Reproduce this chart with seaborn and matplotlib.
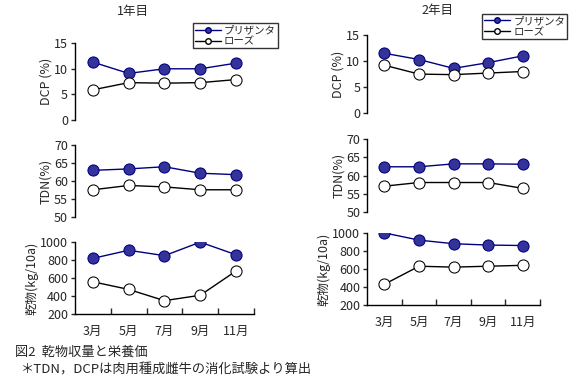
import matplotlib
matplotlib.use('Agg')
import matplotlib.pyplot as plt
import pandas as pd
import seaborn as sns
from matplotlib.lines import Line2D

sns.set_style('white')
plt.rcParams['font.family'] = ['Noto Sans CJK JP', 'DejaVu Sans']

months = ['3月', '5月', '7月', '9月', '11月']
varieties = ['プリザンタ', 'ローズ']

# 1年目
dcp1_p = [11.3, 9.1, 10.0, 10.0, 11.1]
dcp1_r = [5.9, 7.3, 7.2, 7.3, 7.9]
tdn1_p = [63.0, 63.4, 64.0, 62.2, 61.8]
tdn1_r = [57.6, 58.8, 58.4, 57.6, 57.6]
dm1_p = [820, 910, 850, 1000, 860]
dm1_r = [560, 475, 350, 410, 680]

# 2年目
dcp2_p = [11.5, 10.3, 8.6, 9.7, 11.0]
dcp2_r = [9.2, 7.5, 7.4, 7.7, 8.0]
tdn2_p = [62.4, 62.4, 63.2, 63.2, 63.1]
tdn2_r = [57.1, 58.1, 58.1, 58.1, 56.5]
dm2_p = [1000, 920, 880, 865, 860]
dm2_r = [430, 630, 620, 630, 640]

navy = '#000080'
fill = '#333399'


def make_df(p, r):
    return pd.DataFrame({
        'month': months * 2,
        'value': p + r,
        'variety': [varieties[0]] * 5 + [varieties[1]] * 5,
    })


fig = plt.figure(figsize=(5.72, 3.85), dpi=100)

cols = [
    (0.131, 0.313, [(dcp1_p, dcp1_r), (tdn1_p, tdn1_r), (dm1_p, dm1_r)],
     [(0.688, 0.200), (0.436, 0.187), (0.184, 0.187)]),
    (0.642, 0.302, [(dcp2_p, dcp2_r), (tdn2_p, tdn2_r), (dm2_p, dm2_r)],
     [(0.706, 0.203), (0.449, 0.190), (0.208, 0.187)]),
]
ylims = [(0, 15), (50, 70), (200, 1000)]
yticks = [[0, 5, 10, 15], [50, 55, 60, 65, 70], [200, 400, 600, 800, 1000]]
ylabels = ['DCP (%)', 'TDN(%)', '乾物(kg/10a)']
titles = ['1年目', '2年目']
title_pos = [(0.233, 0.969), (0.764, 0.974)]
legend_pos = [(0.337, 0.940), (0.843, 0.964)]

for ci, (x0, w, data, rows) in enumerate(cols):
    for ri, ((p, r), (b, h)) in enumerate(zip(data, rows)):
        ax = fig.add_axes([x0, b, w, h])
        df = make_df(p, r)
        sns.lineplot(data=df, x='month', y='value', hue='variety',
                     palette={varieties[0]: navy, varieties[1]: 'black'},
                     ax=ax, legend=False, lw=1, sort=False)
        ax.lines[0].set(marker='o', markersize=8, markerfacecolor=fill,
                        markeredgecolor=navy)
        ax.lines[1].set(marker='o', markersize=8, markerfacecolor='white',
                        markeredgecolor='black')
        ax.set_xlim(-0.5, 4.5)
        ax.set_ylim(*ylims[ri])
        ax.set_yticks(yticks[ri])
        ax.set_ylabel(ylabels[ri], fontsize=9, labelpad=1)
        ax.set_xlabel('')
        for s in ['top', 'right']:
            ax.spines[s].set_visible(False)
        ax.spines['left'].set_color('black')
        ax.spines['left'].set_linewidth(1)
        ax.tick_params(axis='y', left=True, length=3, width=1,
                       labelsize=9, pad=2, direction='out')
        if ri < 2:
            ax.spines['bottom'].set_visible(False)
            ax.set_xticks([])
        else:
            ax.spines['bottom'].set_color('black')
            ax.spines['bottom'].set_linewidth(1)
            ax.set_xticks([0, 1, 2, 3, 4])
            ax.set_xticklabels(months, fontsize=9)
            ax.set_xticks([0.5, 1.5, 2.5, 3.5, 4.5], minor=True)
            ax.tick_params(axis='x', which='major', length=0, pad=8)
            ax.tick_params(axis='x', which='minor', bottom=True, length=4,
                           width=1, direction='in')
        if ri == 0:
            handles = [
                Line2D([], [], color=navy, lw=1, marker='o', markersize=4,
                       markerfacecolor=fill, markeredgecolor=navy),
                Line2D([], [], color='black', lw=1, marker='o', markersize=4,
                       markerfacecolor='white', markeredgecolor='black'),
            ]
            leg = fig.legend(handles, varieties, loc='upper left',
                             bbox_to_anchor=legend_pos[ci], fontsize=7.5,
                             frameon=True, fancybox=False, edgecolor='black',
                             handlelength=2.5, handletextpad=0.3,
                             borderpad=0.2, labelspacing=0.1,
                             borderaxespad=0)
            leg.get_frame().set_linewidth(1)
    fig.text(*title_pos[ci], titles[ci], fontsize=9, ha='center', va='center')

fig.text(0.026, 0.086, '図2  乾物収量と栄養価', fontsize=9.5, va='center')
fig.text(0.036, 0.039, '＊TDN，DCPは肉用種成雌牛の消化試験より算出',
         fontsize=9.5, va='center')

fig.savefig('out.png', dpi=100)
